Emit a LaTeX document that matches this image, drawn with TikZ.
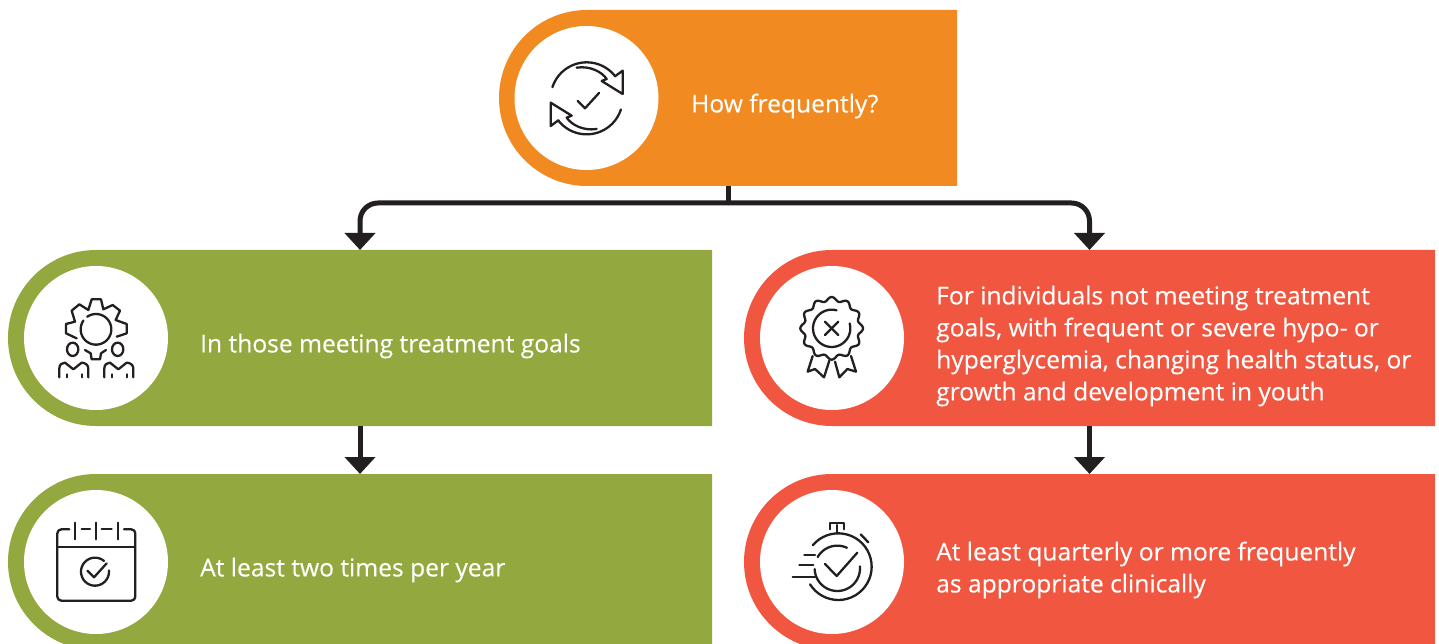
\documentclass[tikz,border=0pt]{standalone}
\usepackage{fontspec}
\setmainfont{Open Sans}
\newfontfamily\labfont[FakeBold=0.25]{Open Sans}
\usetikzlibrary{arrows.meta,shapes.misc}
\definecolor{cOrange}{HTML}{F18B21}
\definecolor{cGreen}{HTML}{93A83E}
\definecolor{cRed}{HTML}{F15740}
\definecolor{cInk}{HTML}{231F20}
\newcommand{\iarc}[5]{plot[domain=#4:#5,samples=40,smooth] ({#1+#3*cos(\x)},{#2+#3*sin(\x)})}
\tikzset{
  panel/.style={rounded rectangle,rounded rectangle right arc=none,rounded rectangle arc length=180,minimum height=176pt,inner sep=0pt,outer sep=0pt,line width=0pt},
  disc/.style={circle,fill=white,minimum size=144pt,inner sep=0pt,outer sep=0pt},
  label/.style={text=white,anchor=west,align=left,inner sep=0pt,font=\labfont\fontsize{24.6}{32}\selectfont},
  conn/.style={draw=cInk,line width=5pt},
  tip/.style={-{Triangle[width=30pt,length=17pt]}},
  icon/.style={draw=cInk,line width=2.3pt,line cap=round,line join=round,fill=none}
}
\begin{document}
\begin{tikzpicture}[x=1pt,y=-1pt]
\useasboundingbox (0,0) rectangle (1439,644);
\clip (0,0) rectangle (1439,644);
\fill[white] (0,0) rectangle (1439,644);
\node[panel,fill=cOrange,minimum width=458pt] (top) at (728,98) {};
\node[panel,fill=cGreen,minimum width=704pt] (gA) at (360,338) {};
\node[panel,fill=cRed,minimum width=691pt] (rA) at (1089.5,338) {};
\node[panel,fill=cGreen,minimum width=704pt] (gB) at (360,562) {};
\node[panel,fill=cRed,minimum width=691pt] (rB) at (1089.5,562) {};
\node[disc] (d0) at (586.5,98) {};
\node[disc] (d1) at (96,338) {};
\node[disc] (d2) at (832,338) {};
\node[disc] (d3) at (96,562) {};
\node[disc] (d4) at (832,562) {};
\node[label] (t0) at (691,106) {How frequently?};
\node[label] (t1) at (200,346) {In those meeting treatment goals};
\node[label] (t2) at (936,346) {For individuals not meeting treatment\\goals, with frequent or severe hypo- or\\hyperglycemia, changing health status, or\\growth and development in youth};
\node[label] (t3) at (200,570) {At least two times per year};
\node[label] (t4) at (936,570) {At least quarterly or more frequently\\as appropriate clinically};
\coordinate (j) at ([yshift=-17pt]top.south);
\draw[conn] (top.south) -- (j);
\draw[conn,tip,rounded corners=18pt] (j) -| (gA.north);
\draw[conn,tip,rounded corners=18pt] (j) -| (rA.north);
\draw[conn,tip] (gA.south) -- (gB.north);
\draw[conn,tip] (rA.south) -- (rB.north);
% refresh icon
\begin{scope}[shift={(500,0)},scale=1/3]
 \foreach \r in {0,180}{
 \begin{scope}[rotate around={\r:(260,295)}]
  \draw[icon] \iarc{260}{295}{108}{198}{322};
  \draw[icon] (345,229) -- (368,212) -- (368,282) -- (305,243) -- (320,237) .. controls (305,215) and (270,197) .. (230,203);
 \end{scope}}
 \draw[icon] (233,303) -- (255,325) -- (297,279);
\end{scope}
% gear and people icon
\begin{scope}[shift={(20,270)},scale=1/3]
 \draw[icon] (170,205) -- (138,190) -- (138,162) -- (165,155) -- (155,122) -- (178,103) -- (205,120) -- (215,88) -- (243,88) -- (250,118) -- (278,105) -- (300,122) -- (287,150) -- (320,162) -- (320,190) -- (290,200);
 \draw[icon] (195,240) -- (212,250) -- (215,268) -- (240,268) -- (243,250) -- (258,240);
 \draw[icon] \iarc{228}{178}{46}{-125}{215};
 \foreach \d in {0,135}{
 \begin{scope}[shift={(\d,0)}]
  \draw[icon] (158,238) ellipse[x radius=17,y radius=20];
  \draw[icon] (118,322) -- (118,295) .. controls (118,283) and (127,278) .. (135,278) -- (160,298) -- (185,278) .. controls (195,278) and (205,285) .. (205,295) -- (205,322);
  \draw[icon] (140,313) -- (140,322);
  \draw[icon] (185,313) -- (185,322);
 \end{scope}}
\end{scope}
% badge icon
\begin{scope}[shift={(770,270)},scale=1/3]
 \draw[icon] plot[domain=0:360,samples=241,smooth] ({185+(88+6*cos(12*\x))*cos(\x)},{175+(88+6*cos(12*\x))*sin(\x)}) -- cycle;
 \draw[icon] \iarc{185}{175}{56}{-15}{285};
 \draw[icon] (165,155) -- (205,195);
 \draw[icon] (205,155) -- (165,195);
 \draw[icon] (128,258) -- (113,305) -- (135,297) -- (162,322) -- (178,272);
 \draw[icon] (195,275) -- (208,322) -- (232,297) -- (258,305) -- (243,258);
\end{scope}
% calendar icon
\begin{scope}[shift={(30,500)},scale=1/3]
 \draw[icon,rounded corners=4pt] (118,88) -- (82,88) -- (82,302) -- (316,302) -- (316,88) -- (282,88);
 \draw[icon] (82,142) -- (316,142);
 \draw[icon] (155,88) -- (180,88);
 \draw[icon] (215,88) -- (245,88);
 \draw[icon] (135,68) -- (135,118);
 \draw[icon] (197,68) -- (197,118);
 \draw[icon] (263,68) -- (263,118);
 \draw[icon] \iarc{195}{215}{42}{-5}{310};
 \draw[icon] (172,212) -- (192,232) -- (230,190);
\end{scope}
% stopwatch icon
\begin{scope}[shift={(770,500)},scale=1/3]
 \draw[icon] \iarc{205}{200}{100}{-140}{148};
 \draw[icon] \iarc{202}{205}{68}{-5}{178};
 \draw[icon] \iarc{202}{205}{68}{-150}{-65};
 \draw[icon] (165,192) -- (200,228) -- (262,158);
 \draw[icon] (103,165) -- (135,165);
 \draw[icon] (88,195) -- (130,195);
 \draw[icon] (68,231) -- (135,231);
 \draw[icon] (200,75) -- (200,100);
 \draw[icon] (180,88) -- (180,70) -- (222,70) -- (222,88);
 \draw[icon] (272,103) -- (295,127);
\end{scope}
\end{tikzpicture}
\end{document}
